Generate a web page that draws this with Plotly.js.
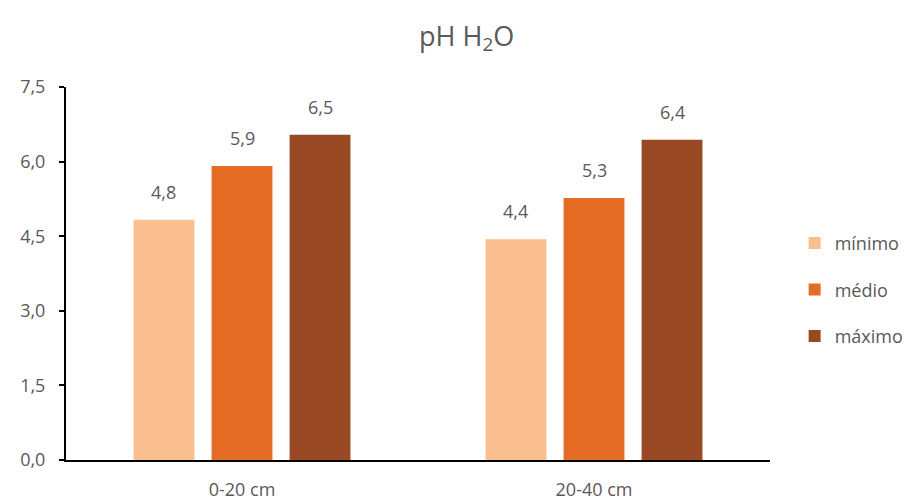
<!DOCTYPE html>
<html>
<head>
<meta charset="utf-8">
<script src="https://cdn.plot.ly/plotly-3.0.1.min.js"></script>
<style>html,body{margin:0;padding:0;background:#fff;}#chart{width:915px;height:504px;}</style>
</head>
<body>
<div id="chart"></div>
<script>
const categories = ["0-20 cm", "20-40 cm"];
const seriesNames = ["mínimo", "médio", "máximo"];
const minimo = [4.83, 4.44];
const medio = [5.91, 5.27];
const maximo = [6.54, 6.44];
const yTickVals = [0, 1.5, 3.0, 4.5, 6.0, 7.5];
const yTickText = ["0,0", "1,5", "3,0", "4,5", "6,0", "7,5"];
const colors = ["#F9BF8F", "#E46C25", "#984822"];

const fmt = v => v.toFixed(1).replace('.', ',');
const series = [minimo, medio, maximo];
const traces = series.map((vals, i) => ({
  type: 'bar',
  name: seriesNames[i],
  x: categories,
  y: vals,
  marker: {color: colors[i]},
  legendgroup: 'g' + i,
  hoverinfo: 'none'
}));

// geometry for label placement (derived from layout settings)
const mL = 66, mR = 145, W = 915;
const bargap = 0.335;
const plotW = W - mL - mR;
const catW = plotW / categories.length;
const slotW = catW * (1 - bargap) / series.length;

const annotations = [];
series.forEach((vals, i) => {
  vals.forEach((v, j) => {
    annotations.push({
      x: categories[j], y: v, xref: 'x', yref: 'y',
      text: fmt(v), showarrow: false,
      xanchor: 'center', yanchor: 'bottom',
      xshift: (i - (series.length - 1) / 2) * slotW,
      yshift: 14,
      font: {family: 'Open Sans, sans-serif', size: 18, color: '#595959'}
    });
  });
});

const layout = {
  width: 915, height: 504,
  margin: {l: mL, r: mR, t: 87, b: 44, autoexpand: false},
  paper_bgcolor: '#fff', plot_bgcolor: '#fff',
  font: {family: 'Open Sans, sans-serif', color: '#595959', size: 18},
  title: {text: 'pH H<sub>2</sub>O', x: 0.51, xref: 'container', xanchor: 'center', y: 0.928, yref: 'container', yanchor: 'middle',
          font: {size: 27, color: '#595959', family: 'Open Sans, sans-serif'}},
  barmode: 'group',
  bargap: bargap,
  bargroupgap: 0.22,
  showlegend: true,
  legend: {x: 1.035, xanchor: 'left', y: 0.456, yanchor: 'middle', font: {size: 18, color: '#595959'},
           tracegroupgap: 20, traceorder: 'grouped'},
  annotations: annotations,
  xaxis: {type: 'category', showline: true, linecolor: '#000', linewidth: 2, showgrid: false,
          ticks: '', ticklabelstandoff: 12, tickfont: {size: 18, color: '#595959'}, zeroline: false},
  yaxis: {range: [0, 7.5], tickvals: yTickVals, ticktext: yTickText, showline: true, linecolor: '#000', linewidth: 2,
          ticks: 'outside', ticklen: 5, tickwidth: 2, tickcolor: '#000', showgrid: false, zeroline: false,
          ticklabelstandoff: 10, tickfont: {size: 18, color: '#595959'}}
};
Plotly.newPlot('chart', traces, layout, {staticPlot: true, displayModeBar: false});
</script>
</body>
</html>
